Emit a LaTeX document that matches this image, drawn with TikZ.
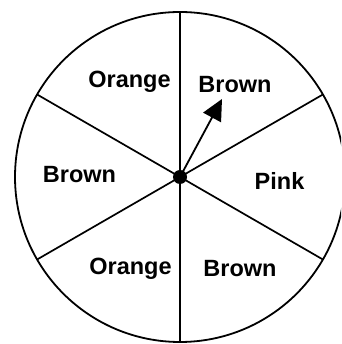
\documentclass[tikz,border=0pt]{standalone}
\usepackage{fontspec}
\setmainfont{Liberation Sans}
\usetikzlibrary{arrows.meta,calc}
\begin{document}
\begin{tikzpicture}[x=1pt,y=1pt,
  rim/.style={line width=1.8pt},
  spoke/.style={line width=1.7pt},
  lbl/.style={font=\fontsize{23.5}{25}\selectfont\bfseries, anchor=base, inner sep=0pt},
  pointer/.style={line width=1.8pt, -{Triangle[length=21pt,width=20pt]}}]
\useasboundingbox (0,0) rectangle (341,344);
\clip (0,0) rectangle (341,344);
\coordinate (c) at (180,167);
\draw[rim] (c) circle (165);
\foreach \a in {90,30,-30,-90,-150,150}
  \draw[spoke] (c) -- ++(\a:165);
\node[lbl] (o1) at (129.5,256) {Orange};
\node[lbl] (b1) at (235,251) {Brown};
\node[lbl] (b2) at (79.5,161) {Brown};
\node[lbl] (p) at (279.5,154) {Pink};
\node[lbl] (o2) at (130.5,69) {Orange};
\node[lbl] (b3) at (240,67) {Brown};
\coordinate (tip) at (222,245);
\draw[pointer] (c) -- (tip);
\node[circle, fill=black, minimum size=14pt, inner sep=0pt] (hub) at (c) {};
\end{tikzpicture}
\end{document}
